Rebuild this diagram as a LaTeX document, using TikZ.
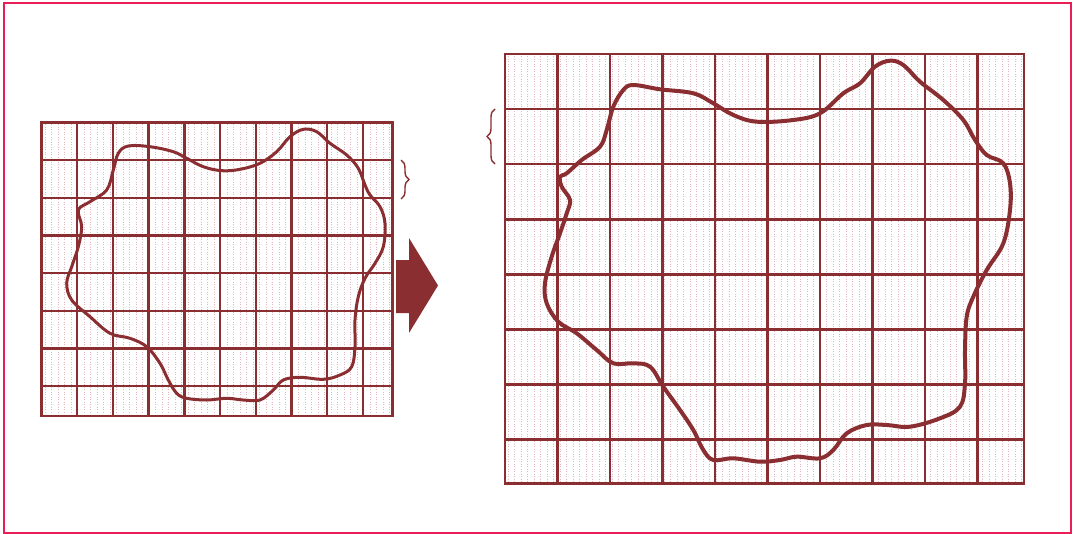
\documentclass[tikz,border=0pt]{standalone}
\usetikzlibrary{decorations.pathreplacing}
\definecolor{rust}{RGB}{138,46,50}
\definecolor{blush}{RGB}{226,182,190}
\definecolor{rim}{RGB}{234,30,86}
\begin{document}
\begin{tikzpicture}[x=1pt,y=-1pt,
  gridline/.style={rust,line width=2.4pt},
  texture/.style={blush,line width=1pt,dash pattern=on 1.3pt off 1.2pt},
  blob/.style={rust,line width=3pt,line join=round},
  curly/.style={rust,line width=1.4pt,decorate,decoration={brace,amplitude=8pt}}]
\useasboundingbox (0,0) rectangle (1073,533);
\draw[rim,line width=2.8pt](4,3) rectangle (1071,533);
% small map
\foreach \x in {45,51.5,...,390} \draw[texture](\x,124)--(\x,414);
\foreach \i in {0,...,9} \draw[gridline](41.5+35.7*\i,122.5)--(41.5+35.7*\i,416);
\foreach \j in {0,...,7} \draw[gridline](41.5,122.5+37.64*\j)--(392.5,122.5+37.64*\j);
\draw[gridline](41.5,122.5) rectangle (392.5,416);
\draw[blob] plot[smooth cycle,tension=.6] coordinates {
  (128.3,146) (150,146.7) (173.3,151.7) (186.7,158.3) (203.3,166.7) (221.7,170.7)
  (240,169.3) (260,163.3) (276.7,151.7) (290,136.7) (303.3,129.3) (316.7,131.7)
  (330,143.3) (346.7,155) (358.3,168.3) (365,185) (370,195) (380,206.7)
  (385,223.3) (383.3,246.7) (375,263.3) (365,278.3) (358.3,296.7) (355,320)
  (355,346.7) (351.7,366.7) (340,375) (323.3,379.3) (300,377.3) (283.3,380)
  (273.3,390) (260,400) (243.3,400) (226.7,398.3) (206.7,400) (186.7,398.3)
  (176.7,393.3) (168.3,380) (160,363.3) (146.7,346.7) (130,338.3) (110,333.3)
  (90,316.7) (71.7,300) (66.7,283.3) (71.7,266.7) (78.3,246.7) (81.7,226.7)
  (78.3,210) (90,201.7) (106.7,190) (113.3,170) (118.3,153.3)};
\draw[curly](401,160)--(401,199);
\fill[rust](396,260)--(409,260)--(409,238)--(438,285.5)--(409,333)--(409,313)--(396,313)--cycle;
% large map
\foreach \x in {508,514.5,...,1022} \draw[texture](\x,56)--(\x,482);
\foreach \i in {0,...,9} \draw[gridline,line width=2.8pt](505+52.5*\i,54)--(505+52.5*\i,483.5);
\foreach \j in {0,...,7} \draw[gridline,line width=2.8pt](505,54+55.04*\j)--(1024,54+55.04*\j);
\draw[gridline,line width=2.8pt](505,54) rectangle (1024,483.5);
\draw[blob,line width=4pt] plot[smooth cycle,tension=.6] coordinates {
  (633.3,85) (660,89.3) (693.3,93.3) (713.3,103.3) (733.3,115) (756.7,121.7)
  (793.3,120) (820,113.3) (843.3,93.3) (860,83.3) (875,66.7) (890,60.7)
  (903.3,65) (920,81.7) (943.3,100) (963.3,120) (975,140) (986.7,155)
  (1003.3,163.3) (1010,183.3) (1010,210) (1003.3,243.3) (986.7,270) (973.3,296.7)
  (966.7,316.7) (965,350) (965,383.3) (960,406.7) (940,418.3) (910,426.7)
  (886.7,425) (866.7,425) (846.7,433.3) (833.3,450) (820,458.3) (796.7,456.7)
  (780,460) (760,461.7) (733.3,458.3) (713.3,460) (703.3,450) (693.3,430)
  (680,410) (663.3,386.7) (650,366.7) (633.3,363.3) (613.3,363.3) (596.7,350)
  (576.7,333.3) (558.3,321.7) (546.7,303.3) (545,283.3) (551.7,256.7) (560,233.3)
  (566.7,213.3) (570,200) (561.7,186.7) (560,176.7) (566.7,173.3) (581.7,160)
  (600,146.7) (606.7,130) (613.3,106.7) (623.3,90)};
\draw[curly](495,164)--(495,109);
\end{tikzpicture}
\end{document}
